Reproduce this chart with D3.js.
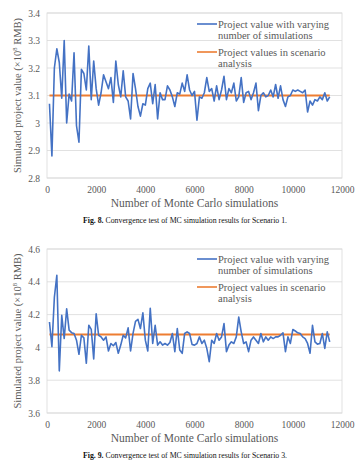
<!DOCTYPE html>
<html>
<head>
<meta charset="utf-8">
<script src="https://cdn.jsdelivr.net/npm/d3@7"></script>
<style>
  body { margin: 0; background: #fff; }
  svg { display: block; }
  svg text { font-family: "Liberation Serif", "DejaVu Serif", serif; }
</style>
</head>
<body>
<div id="vis"></div>
<script>
const serif = "'Liberation Serif', 'DejaVu Serif', serif";

// number of simulations on the x axis (every 100 runs)
const simCounts = d3.range(100, 11501, 100);

// scenario 1 project value (x10^8 RMB)
const scenario1Values = [
  3.07, 2.88, 3.20, 3.27, 3.22, 3.09, 3.30, 3.00, 3.105, 3.08,
  3.255, 2.99, 2.93, 3.195, 3.18, 3.12, 3.28, 3.085, 3.225, 3.125,
  3.065, 3.11, 3.175, 3.15, 3.125, 3.165, 3.075, 3.225, 3.14, 3.095,
  3.19, 3.095, 3.08, 3.015, 3.18, 3.125, 3.06, 3.025, 3.07, 3.065,
  3.125, 3.145, 3.07, 3.14, 3.015, 3.11, 3.085, 3.085, 3.135, 3.12,
  3.095, 3.06, 3.11, 3.105, 3.145, 3.115, 3.175, 3.12, 3.10, 3.115,
  3.01, 3.095, 3.09, 3.11, 3.165, 3.115, 3.125, 3.08, 3.135, 3.085,
  3.12, 3.17, 3.085, 3.125, 3.11, 3.145, 3.08, 3.095, 3.165, 3.075,
  3.11, 3.115, 3.085, 3.11, 3.145, 3.045, 3.10, 3.11, 3.095, 3.10,
  3.12, 3.095, 3.14, 3.09, 3.135, 3.085, 3.06, 3.095, 3.10, 3.12,
  3.115, 3.12, 3.115, 3.11, 3.12, 3.04, 3.08, 3.065, 3.085, 3.08,
  3.095, 3.085, 3.11, 3.08, 3.095
];
const scenario1Reference = 3.1;

// scenario 3 project value
const scenario3Values = [
  4.155, 4.004, 4.306, 4.44, 3.857, 4.195, 4.054, 4.235, 4.105, 4.09,
  4.085, 4.044, 3.958, 4.074, 4.058, 3.903, 4.135, 4.11, 3.93, 4.205,
  4.074, 4.064, 4.044, 4.064, 3.978, 4.024, 4.01, 4.03, 3.964, 4.014,
  4.074, 4.058, 4.119, 3.978, 4.085, 4.159, 4.171, 4.115, 4.211, 4.044,
  3.978, 4.239, 4.024, 4.135, 4.014, 4.034, 4.014, 4.024, 4.014, 4.03,
  4.085, 3.974, 4.115, 3.984, 3.964, 4.085, 4.095, 4.085, 4.018, 4.014,
  4.024, 4.064, 4.024, 4.044, 3.994, 3.913, 4.044, 4.024, 4.085, 4.044,
  4.064, 4.145, 3.974, 4.014, 4.034, 4.024, 4.064, 4.185, 4.095, 4.024,
  4.034, 3.974, 4.044, 4.064, 4.044, 4.024, 4.085, 4.034, 4.064, 4.044,
  4.064, 4.054, 4.064, 4.064, 4.074, 4.089, 3.974, 4.064, 4.024, 4.109,
  4.10, 4.089, 4.085, 4.064, 4.054, 4.024, 3.964, 4.135, 4.034, 4.02,
  4.024, 4.085, 3.994, 4.095, 4.034
];
const scenario3Reference = 4.078;

// axis ticks
const xTicks = [0, 2000, 4000, 6000, 8000, 10000, 12000];
const yTicks1 = [2.8, 2.9, 3.0, 3.1, 3.2, 3.3, 3.4];
const yTicks3 = [3.6, 3.8, 4.0, 4.2, 4.4, 4.6];

const legendLabels = [
  ["Project value with varying", "number of simulations"],
  ["Project values in scenario", "analysis"]
];

const blue = "#4472c4";
const orange = "#ed7d31";
const grey = "#595959";

const svg = d3.select("#vis").append("svg")
  .attr("width", 358)
  .attr("height", 462)
  .attr("font-family", serif);

function drawChart(cfg) {
  const g = svg.append("g").attr("transform", `translate(0,${cfg.top})`);
  const plotH = cfg.height;
  const x = d3.scaleLinear().domain([0, 12000]).range([47, 342]);
  const y = d3.scaleLinear().domain(cfg.yDomain).range([plotH, 0]);

  // gridlines
  g.append("g")
    .selectAll("line")
    .data(cfg.yTicks)
    .join("line")
    .attr("x1", 47).attr("x2", 342)
    .attr("y1", (d) => y(d)).attr("y2", (d) => y(d))
    .attr("stroke", "#d9d9d9")
    .attr("stroke-width", 0.8);

  // plot frame
  g.append("rect")
    .attr("x", 47).attr("y", 0)
    .attr("width", 295).attr("height", plotH)
    .attr("fill", "none")
    .attr("stroke", "#d9d9d9")
    .attr("stroke-width", 0.8);

  // y axis labels
  const yAxis = d3.axisLeft(y).tickValues(cfg.yTicks).tickSize(0).tickPadding(7)
    .tickFormat((d) => d3.format("")(+d.toFixed(1)));
  g.append("g")
    .attr("transform", "translate(47,0)")
    .call(yAxis)
    .attr("font-family", serif)
    .call((s) => s.select(".domain").remove())
    .selectAll("text")
    .attr("fill", grey)
    .style("font-size", "9.5px");

  // x axis labels
  const xAxis = d3.axisBottom(x).tickValues(xTicks).tickSize(0).tickPadding(8)
    .tickFormat(d3.format("d"));
  g.append("g")
    .attr("transform", `translate(0,${plotH})`)
    .call(xAxis)
    .attr("font-family", serif)
    .call((s) => s.select(".domain").remove())
    .selectAll("text")
    .attr("fill", grey)
    .style("font-size", "9.5px");

  // reference line
  g.append("line")
    .attr("x1", x(100)).attr("x2", x(11500))
    .attr("y1", y(cfg.reference)).attr("y2", y(cfg.reference))
    .attr("stroke", orange)
    .attr("stroke-width", 2);

  // simulated value line
  const line = d3.line()
    .x((d, i) => x(simCounts[i]))
    .y((d) => y(d));
  g.append("path")
    .datum(cfg.values)
    .attr("fill", "none")
    .attr("stroke", blue)
    .attr("stroke-width", 1.6)
    .attr("stroke-linejoin", "round")
    .attr("d", line);

  // legend
  const legend = g.append("g");
  [blue, orange].forEach((c, i) => {
    const ly = cfg.legendY[i];
    legend.append("line")
      .attr("x1", 197).attr("x2", 217)
      .attr("y1", ly).attr("y2", ly)
      .attr("stroke", c).attr("stroke-width", 1.6);
    legend.append("text")
      .attr("x", 218).attr("y", ly + 3.5)
      .attr("fill", grey)
      .style("font-size", "10.5px")
      .selectAll("tspan")
      .data(legendLabels[i])
      .join("tspan")
      .attr("x", 218)
      .attr("dy", (d, j) => (j === 0 ? 0 : 11.5))
      .text((d) => d);
  });

  // y axis title
  g.append("text")
    .attr("transform", `translate(21,${plotH / 2}) rotate(-90)`)
    .attr("text-anchor", "middle")
    .attr("fill", grey)
    .style("font-size", "10.5px")
    .html("Simulated project value (×10<tspan dy='-4' font-size='6.5px'>8</tspan><tspan dy='4'> RMB)</tspan>");

  // x axis title
  g.append("text")
    .attr("x", 194.5).attr("y", plotH + 29)
    .attr("text-anchor", "middle")
    .attr("fill", grey)
    .style("font-size", "11.5px")
    .text("Number of Monte Carlo simulations");

  // caption
  const cap = g.append("text")
    .attr("x", 185).attr("y", plotH + 45)
    .attr("text-anchor", "middle")
    .attr("fill", "#111")
    .style("font-size", "7.8px");
  cap.append("tspan").style("font-weight", "bold").text(cfg.figLabel);
  cap.append("tspan").text("  Convergence test of MC simulation results for " + cfg.scenario);
}

drawChart({
  top: 13, height: 165,
  yDomain: [2.8, 3.4], yTicks: yTicks1,
  values: scenario1Values, reference: scenario1Reference,
  legendY: [11, 39],
  figLabel: "Fig. 8.", scenario: "Scenario 1."
});

drawChart({
  top: 249, height: 164,
  yDomain: [3.6, 4.6], yTicks: yTicks3,
  values: scenario3Values, reference: scenario3Reference,
  legendY: [10, 38],
  figLabel: "Fig. 9.", scenario: "Scenario 3."
});
</script>
</body>
</html>
